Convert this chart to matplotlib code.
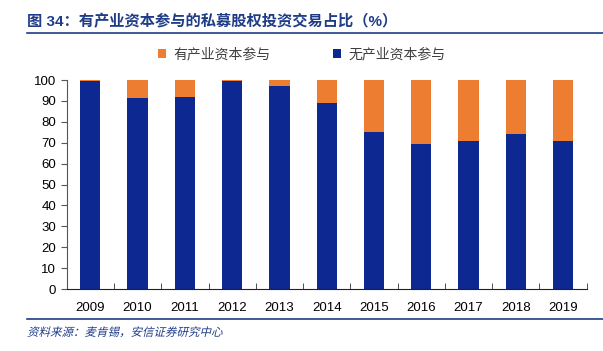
import matplotlib.pyplot as plt
import numpy as np
from matplotlib.textpath import TextPath
from matplotlib.patches import PathPatch
from matplotlib.font_manager import FontProperties
from matplotlib.transforms import Affine2D, IdentityTransform

plt.rcParams['font.family'] = ['Liberation Sans', 'Noto Sans CJK SC']

years = ['2009', '2010', '2011', '2012', '2013', '2014', '2015', '2016', '2017', '2018', '2019']
no_industry = [99.5, 91.3, 92.0, 99.5, 97.2, 89.0, 75.0, 69.6, 71.0, 74.0, 71.0]
with_industry = [100 - v for v in no_industry]

blue = '#0D2891'
orange = '#ED7D31'
title_blue = '#1F3C88'

fig = plt.figure(figsize=(6.03, 3.51), dpi=100)
ax = fig.add_axes([0.1106, 0.1766, 0.8624, 0.5954])

x = np.arange(len(years))
ax.bar(x, no_industry, width=0.43, color=blue, label='无产业资本参与', zorder=2)
ax.bar(x, with_industry, width=0.43, bottom=no_industry, color=orange,
       label='有产业资本参与', zorder=2)

ax.set_xlim(-0.5, len(years) - 0.5)
ax.set_ylim(0, 100)
ax.set_yticks(range(0, 101, 10))
ax.set_xticks(x)
ax.set_xticklabels(years)
ax.set_xticks(np.arange(-0.5, len(years), 1), minor=True)
ax.tick_params(axis='x', which='major', length=0, pad=9, labelsize=9.5)
ax.tick_params(axis='x', which='minor', direction='in', length=4, color='#333333')
ax.tick_params(axis='y', direction='out', length=4, labelsize=9.5, color='#555555')
for side in ['top', 'right']:
    ax.spines[side].set_visible(False)
ax.spines['left'].set_color('#555555')
ax.spines['bottom'].set_color('#222222')

handles, labels = ax.get_legend_handles_labels()
leg = fig.legend(handles[::-1], labels[::-1], loc='center', bbox_to_anchor=(0.5, 0.845),
                 ncol=2, frameon=False, handlelength=0.6, handleheight=0.6,
                 columnspacing=4.5, handletextpad=0.5, labelcolor='#404040',
                 prop=FontProperties(family='Noto Sans CJK SC', size=10))

fig.text(0.045, 0.94, '图 34：有产业资本参与的私募股权投资交易占比（%）', fontsize=11,
         fontweight='bold', color=title_blue, va='center', ha='left')
fig.add_artist(plt.Line2D([0.045, 1.0], [0.906, 0.906], color=title_blue, lw=1.2))
fig.add_artist(plt.Line2D([0.045, 1.0], [0.09, 0.09], color=title_blue, lw=1.2))

# italic-looking source note (CJK font has no italic, so skew the glyph outlines)
src = TextPath((0, 0), '资料来源：麦肯锡，安信证券研究中心',
               prop=FontProperties(family='Noto Sans CJK SC'), size=11.5)
tr = Affine2D().skew_deg(14, 0).translate(27, 351 - 336)
fig.add_artist(PathPatch(src, transform=tr + IdentityTransform(),
                         color=title_blue, lw=0))

fig.savefig('out.png', dpi=100)
